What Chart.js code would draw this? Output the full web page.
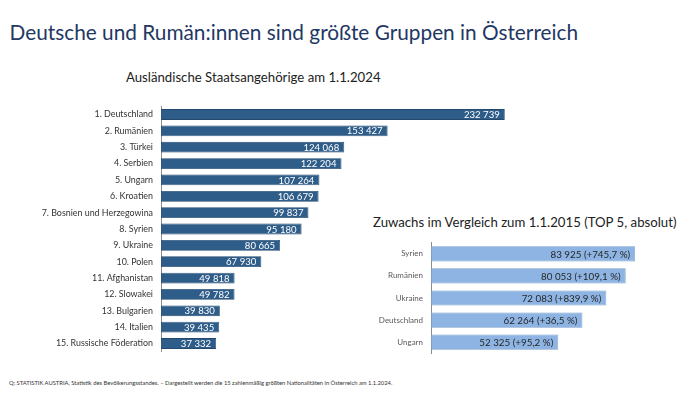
<!DOCTYPE html>
<html><head><meta charset="utf-8">
<script src="https://cdn.jsdelivr.net/npm/chart.js@4"></script>
<style>
html,body{margin:0;padding:0;background:#fff;width:700px;height:396px;overflow:hidden;font-family:Lato,"Open Sans",sans-serif;}
.t{position:absolute;white-space:nowrap;line-height:1;}
#title{left:9.5px;top:22px;font-size:20.8px;color:#1F3864;}
#sub1{left:126px;top:71px;font-size:13.2px;color:#222;}
#sub2{left:373px;top:215.5px;font-size:13.2px;color:#222;}
#foot{left:9px;top:379.5px;font-size:5.8px;color:#333;}
.box{position:absolute;}
#b1{left:0;top:93px;width:520px;height:272px;}
#b2{left:340px;top:229.5px;width:360px;height:136px;}
</style></head><body>
<div class="t" id="title">Deutsche und Rumän:innen sind größte Gruppen in Österreich</div>
<div class="t" id="sub1">Ausländische Staatsangehörige am 1.1.2024</div>
<div class="t" id="sub2">Zuwachs im Vergleich zum 1.1.2015 (TOP 5, absolut)</div>
<div class="t" id="foot">Q: STATISTIK AUSTRIA, Statistik des Bevölkerungsstandes. – Dargestellt werden die 15 zahlenmäßig größten Nationalitäten in Österreich am 1.1.2024.</div>
<div class="box" id="b1"><canvas id="c1"></canvas></div>
<div class="box" id="b2"><canvas id="c2"></canvas></div>
<script>
const countries = ["1. Deutschland","2. Rumänien","3. Türkei","4. Serbien","5. Ungarn","6. Kroatien","7. Bosnien und Herzegowina","8. Syrien","9. Ukraine","10. Polen","11. Afghanistan","12. Slowakei","13. Bulgarien","14. Italien","15. Russische Föderation"];
const population = [232739,153427,124068,122204,107264,106679,99837,95180,80665,67930,49818,49782,39830,39435,37332];
const growthCountries = ["Syrien","Rumänien","Ukraine","Deutschland","Ungarn"];
const growthAbs = [83925,80053,72083,62264,52325];
const growthPct = [745.7,109.1,839.9,36.5,95.2];

const fmt = v => String(v).replace(/\B(?=(\d{3})+(?!\d))/g, ' ');
const FONT = 'Lato, "Open Sans", sans-serif';

function valueLabels(formatter, color, size){
  return {
    id:'vl',
    afterDatasetsDraw(chart){
      const ctx = chart.ctx;
      const meta = chart.getDatasetMeta(0);
      ctx.save();
      ctx.font = size + 'px ' + FONT;
      ctx.fillStyle = color;
      ctx.textAlign = 'right';
      ctx.textBaseline = 'middle';
      meta.data.forEach((el,i)=>{
        ctx.fillText(formatter(i), el.x - 5, el.y + 0.5);
      });
      ctx.restore();
    }
  };
}

new Chart(document.getElementById('c1'), {
  type:'bar',
  data:{labels:countries, datasets:[{data:population, backgroundColor:'#2F5D8A', borderColor:'#24496E', borderWidth:0.8, borderSkipped:false, barPercentage:0.66, categoryPercentage:1}]},
  options:{
    indexAxis:'y', responsive:true, maintainAspectRatio:false, animation:false,
    layout:{padding:{top:10,bottom:7,left:0,right:0}},
    plugins:{legend:{display:false}, tooltip:{enabled:false}},
    scales:{
      x:{display:false, min:0, max:243060},
      y:{
        afterFit(s){ s.width = 161; },
        grid:{display:false, drawTicks:false},
        border:{display:true, color:'#8C8C8C', width:1},
        ticks:{padding:8, color:'#333', font:{family:FONT, size:8.9}}
      }
    }
  },
  plugins:[valueLabels(i=>fmt(population[i]), '#fff', 9.6)]
});

new Chart(document.getElementById('c2'), {
  type:'bar',
  data:{labels:growthCountries, datasets:[{data:growthAbs, backgroundColor:'#8EB4E3', borderColor:'#7A9CC8', borderWidth:0.8, borderSkipped:false, barPercentage:0.69, categoryPercentage:1}]},
  options:{
    indexAxis:'y', responsive:true, maintainAspectRatio:false, animation:false,
    layout:{padding:{top:10,bottom:10,left:0,right:0}},
    plugins:{legend:{display:false}, tooltip:{enabled:false}},
    scales:{
      x:{display:false, min:0, max:110600},
      y:{
        afterFit(s){ s.width = 91; },
        grid:{display:false, drawTicks:false},
        border:{display:true, color:'#8C8C8C', width:1},
        ticks:{padding:8, color:'#595959', font:{family:FONT, size:8}}
      }
    }
  },
  plugins:[valueLabels(i=>fmt(growthAbs[i]) + ' (+' + growthPct[i].toFixed(1).replace('.', ',') + ' %)', '#262626', 9.8)]
});
</script>
</body></html>
